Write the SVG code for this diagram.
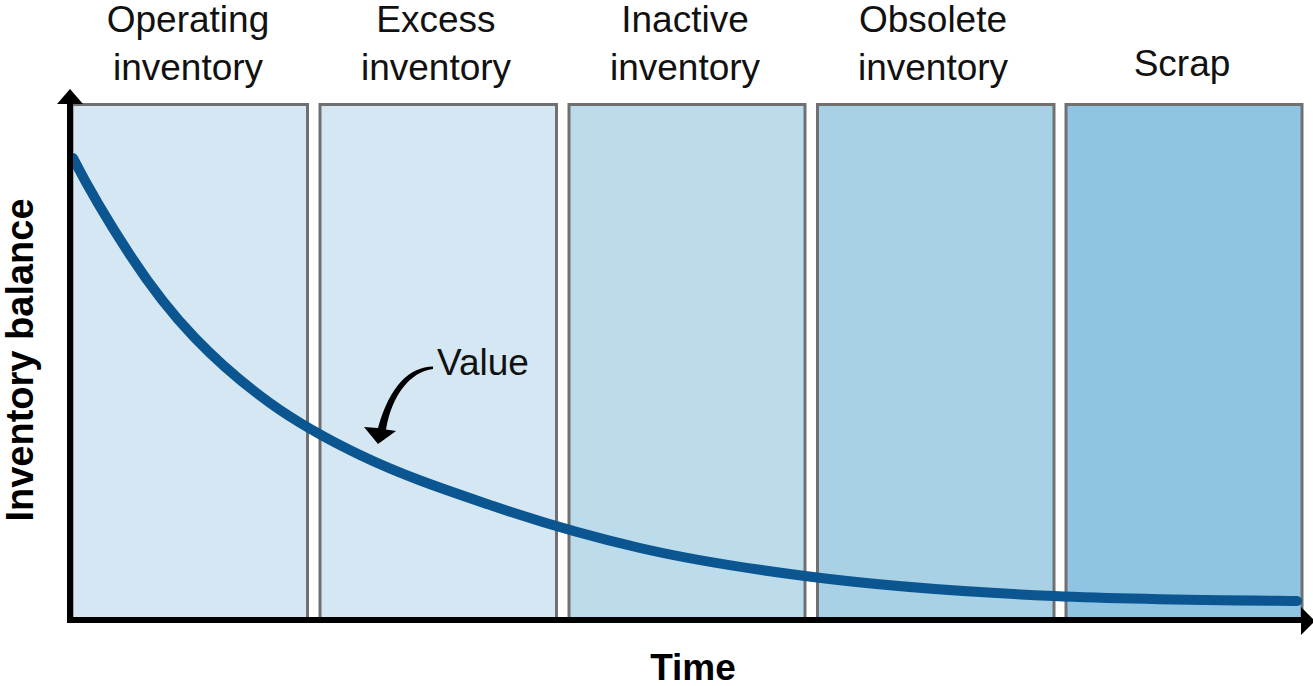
<svg xmlns="http://www.w3.org/2000/svg" width="1313" height="686" viewBox="0 0 1313 686">
<style>
.box{stroke:#707070;stroke-width:3}
.lbl{font-family:"Liberation Sans",Arial,sans-serif;font-size:37px;fill:#111;text-anchor:middle}
.axl{font-family:"Liberation Sans",Arial,sans-serif;font-size:37px;font-weight:bold;fill:#000;text-anchor:middle}
.axis{stroke:#000;stroke-width:6;fill:none}
</style>
<rect width="1313" height="686" fill="#fff"/>
<g id="operating">
<rect class="box" x="72" y="104.5" width="235.5" height="515" fill="#d4e7f3"/>
<text class="lbl" x="188" y="32">Operating</text>
<text class="lbl" x="188" y="80">inventory</text>
</g>
<g id="excess">
<rect class="box" x="320" y="104.5" width="236.5" height="515" fill="#d4e7f3"/>
<text class="lbl" x="436" y="32">Excess</text>
<text class="lbl" x="436" y="80">inventory</text>
</g>
<g id="inactive">
<rect class="box" x="569" y="104.5" width="236" height="515" fill="#bcdcec"/>
<text class="lbl" x="685" y="32">Inactive</text>
<text class="lbl" x="685" y="80">inventory</text>
</g>
<g id="obsolete">
<rect class="box" x="817.5" y="104.5" width="236.5" height="515" fill="#a8d1e5"/>
<text class="lbl" x="933" y="32">Obsolete</text>
<text class="lbl" x="933" y="80">inventory</text>
</g>
<g id="scrap">
<rect class="box" x="1066" y="104.5" width="236" height="515" fill="#8fc5e2"/>
<text class="lbl" x="1182" y="76">Scrap</text>
</g>
<g id="connectors">
<path d="M73,158 C92,195.1 111,225.9 130,255 C151.7,288.2 173.3,315.5 195,338 C220,364 245,385 270,403 C300,424.6 330,440.6 360,455 C404.3,476.3 448.7,490.9 493,506 C542,522.7 591,536.7 640,548 C695,560.7 750,568.9 805,576 C888,586.8 971,592.3 1054,596 C1135.3,599.7 1216.7,600.2 1297,601" fill="none" stroke="#0b5690" stroke-width="10" stroke-linecap="round"/>
<path d="M433,366.5 C410,367 390,385 378,428 L364,427 L378,444 L396,431 L386,429.5 C392,395 410,372 433,369 Z" fill="#000"/>
</g>
<g id="axes">
<path class="axis" d="M70,623 V100"/>
<path class="axis" d="M67,620 H1303"/>
<polygon points="70,89 57,104 83,104" fill="#000"/>
<polygon points="1315,621 1301,607 1301,635" fill="#000"/>
</g>
<g id="value">
<text x="437" y="375" font-family="Liberation Sans, Arial, sans-serif" font-size="37" fill="#111">Value</text>
</g>
<text class="axl" x="693" y="680">Time</text>
<text class="axl" x="33" y="360" font-size="38" transform="rotate(-90 33 360)" style="font-size:38px">Inventory balance</text>
</svg>
